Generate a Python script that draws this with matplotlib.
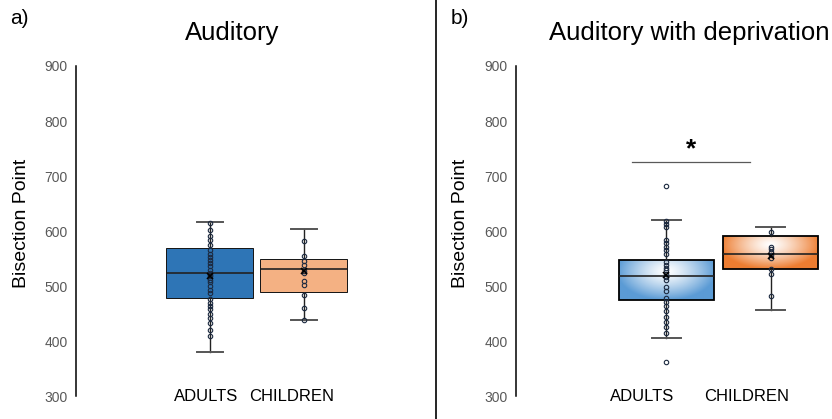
import numpy as np
import matplotlib
matplotlib.use("Agg")
import matplotlib.pyplot as plt
from matplotlib.patches import Rectangle

plt.rcParams["font.family"] = ["Liberation Sans", "DejaVu Sans"]

groups = ["ADULTS", "CHILDREN"]

# panel a: auditory
a_adults_stats = dict(whislo=381, q1=478, med=524, q3=567, whishi=616, mean=518)
a_children_stats = dict(whislo=438, q1=490, med=531, q3=547, whishi=604, mean=527)
a_adults_pts = [615, 602, 592, 584, 575, 566, 559, 554, 548, 542, 536, 530, 524, 521,
                518, 512, 507, 501, 494, 488, 477, 470, 464, 459, 450, 443, 433, 421, 409]
a_children_pts = [582, 555, 546, 538, 528, 525, 510, 502, 484, 461, 438]

# panel b: auditory with deprivation
b_adults_stats = dict(whislo=407, q1=475, med=519, q3=547, whishi=620, mean=520)
b_children_stats = dict(whislo=457, q1=531, med=559, q3=592, whishi=608, mean=555)
b_adults_pts = [682, 619, 613, 607, 584, 579, 571, 565, 558, 544, 538, 534, 529, 523,
                517, 512, 498, 491, 478, 471, 465, 455, 444, 435, 426, 415, 362]
b_children_pts = [599, 571, 567, 562, 557, 552, 531, 522, 483]

yticks = [300, 400, 500, 600, 700, 800, 900]
sig_y = 725


def gradient_box(ax, x0, x1, y0, y1, color):
    # radial fade: white near the top middle, full colour at the edges
    xx, yy = np.meshgrid(np.linspace(-1, 1, 120), np.linspace(-1, 1, 60))
    r = np.sqrt(xx ** 2 + ((yy - 0.45) / 1.4) ** 2)
    t = np.clip(r / 1.05, 0, 1) ** 1.3
    c = np.array(matplotlib.colors.to_rgb(color))
    img = (1 - t)[..., None] * np.ones(3) + t[..., None] * c
    im = ax.imshow(img, extent=[x0, x1, y0, y1], origin="lower", aspect="auto",
                   zorder=1, interpolation="bilinear")
    im.set_clip_path(Rectangle((x0, y0), x1 - x0, y1 - y0, transform=ax.transData))


def draw_panel(ax, stats, points, colors, gradient, xlim, label_x):
    width = 0.91
    ax.bxp(stats, positions=[1, 2], widths=width, showfliers=False, showmeans=False,
           patch_artist=True, capwidths=0.28,
           boxprops=dict(facecolor="none", edgecolor="black", linewidth=1.3),
           medianprops=dict(color="#222222", linewidth=1.2),
           whiskerprops=dict(color="#222222", linewidth=1.0),
           capprops=dict(color="#555555", linewidth=1.4))
    for i, (st, col) in enumerate(zip(stats, colors)):
        pos = i + 1
        if gradient:
            gradient_box(ax, pos - width / 2, pos + width / 2, st["q1"], st["q3"], col)
        else:
            ax.add_patch(Rectangle((pos - width / 2, st["q1"]), width, st["q3"] - st["q1"],
                                   facecolor=col, edgecolor="none", zorder=1))
    for bx in ax.patches:
        bx.set_zorder(2)
    for i, pts in enumerate(points):
        ax.plot(np.full(len(pts), i + 1), pts, "o", ms=3.2, mfc="none",
                mec="#1c2a40", mew=0.8, zorder=4)
        ax.plot(i + 1, stats[i]["mean"], "x", ms=4.5, color="black", mew=1.2, zorder=5)
    ax.set_xlim(*xlim)
    ax.set_ylim(300, 900)
    ax.set_yticks(yticks)
    ax.set_xticks([])
    ax.tick_params(axis="y", length=0, pad=6, labelsize=10, labelcolor="#595959")
    for s in ["top", "right", "bottom"]:
        ax.spines[s].set_visible(False)
    ax.spines["left"].set_linewidth(1.1)
    for x, g in zip(label_x, groups):
        ax.text(x, 300, g, ha="center", va="center", fontsize=12)


fig = plt.figure(figsize=(8.32, 4.19), dpi=100)

ax1 = fig.add_axes([0.0913, 0.0537, 0.4135, 0.789])
draw_panel(ax1, [a_adults_stats, a_children_stats], [a_adults_pts, a_children_pts],
           ["#2e75b6", "#f4b183"], False, (-0.4255, 3.234), [0.96, 1.87])

ax2 = fig.add_axes([0.6202, 0.0537, 0.3774, 0.789])
draw_panel(ax2, [b_adults_stats, b_children_stats], [b_adults_pts, b_children_pts],
           ["#5b9bd5", "#ed7d31"], True, (-0.444, 2.569), [0.77, 1.77])

# significance bracket between adults and children
ax2.plot([0.669, 1.80], [sig_y, sig_y], color="#595959", lw=0.9)
ax2.text(1.235, sig_y + 2, "*", ha="center", va="bottom", fontsize=19, fontweight="bold")

fig.text(0.0120, 0.955, "a)", fontsize=15, ha="left", va="center")
fig.text(0.553, 0.955, "b)", fontsize=15, ha="center", va="center")
fig.text(0.279, 0.921, "Auditory", fontsize=18.5, ha="center", va="center")
fig.text(0.829, 0.921, "Auditory with deprivation", fontsize=18.5, ha="center", va="center")
fig.text(0.0264, 0.468, "Bisection Point", fontsize=14, rotation=90, ha="center", va="center")
fig.text(0.553, 0.468, "Bisection Point", fontsize=14, rotation=90, ha="center", va="center")

# divider between the two panels
fig.add_artist(matplotlib.lines.Line2D([436 / 832, 436 / 832], [0, 1], color="black", lw=1.2))

fig.savefig("out.png", dpi=100)
